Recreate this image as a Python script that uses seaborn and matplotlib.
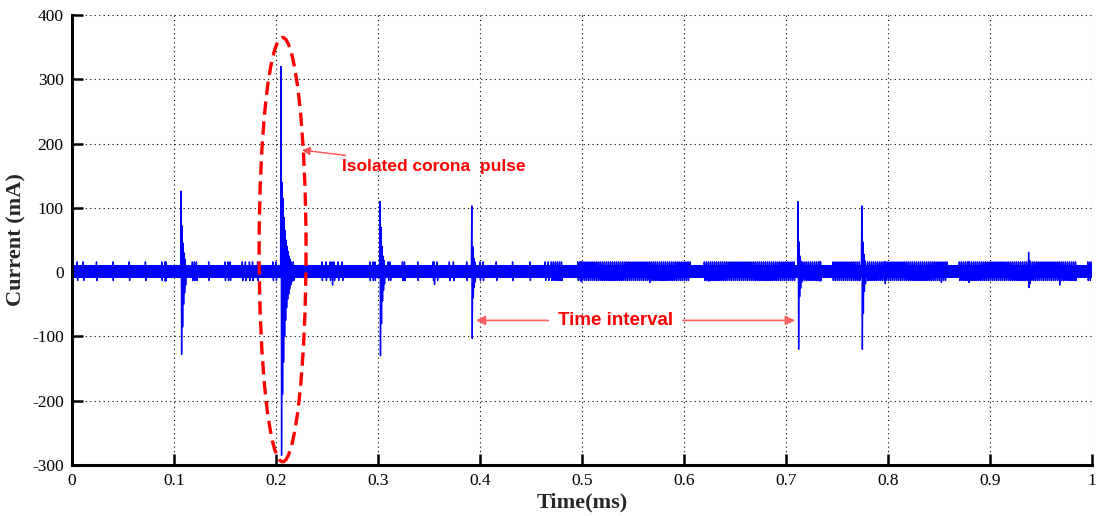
import numpy as np
import pandas as pd
import matplotlib
matplotlib.use("Agg")
import matplotlib.pyplot as plt
from matplotlib.patches import Ellipse
import seaborn as sns

# ---- data -------------------------------------------------------------
dt = 0.0005                      # sampling step (ms)
t_end = 1.0

band_hi, band_lo = 10, -8        # steady background oscillation (mA)
spike_hi, spike_lo = 16, -13     # small discharge spikes (mA)

# isolated small spikes (ms)
spike_times = [0.005, 0.011, 0.024, 0.040, 0.056, 0.072, 0.088, 0.092,
               0.118, 0.120, 0.122, 0.134, 0.150, 0.153, 0.155, 0.167,
               0.170, 0.174, 0.177, 0.182, 0.197, 0.200, 0.214, 0.217,
               0.245, 0.249, 0.253, 0.257, 0.261, 0.265, 0.292, 0.295,
               0.297, 0.310, 0.312, 0.324, 0.326, 0.339, 0.354, 0.358,
               0.370, 0.374, 0.387, 0.400, 0.403, 0.416, 0.432, 0.449,
               0.464, 0.467]
deep_spikes = [(0.091, -14), (0.255, -20), (0.355, -19), (0.499, -15),
               (0.566, -16), (0.624, -14), (0.733, -14), (0.797, -18),
               (0.852, -16), (0.879, -16), (0.968, -20)]

# stretches of dense spiking (start, end) in ms
dense_start = [0.469, 0.495, 0.619, 0.715, 0.745, 0.777, 0.870, 0.995]
dense_end   = [0.481, 0.606, 0.709, 0.735, 0.774, 0.858, 0.985, 1.000]

# corona pulses: onset time (ms) and successive ringing extrema (mA)
pulse_times = [0.107, 0.205, 0.302, 0.392, 0.712, 0.7745, 0.938]
pulse_ringing = [
    [126, -128, 72, -85, 45, -50, 30, -32, 20, -20],
    [320, -285, 140, -190, 115, -140, 85, -100, 65, -75, 50, -55,
     40, -42, 32, -34, 25, -26, 20, -20, 16, -15],
    [110, -130, 70, -80, 40, -45, 25, -28, 18, -18],
    [103, -103, 40, -40, 22, -24, 16, -15],
    [110, -120, 47, -38, 25, -25, 17, -16],
    [103, -120, 47, -64, 28, -30, 18, -18],
    [31, -24, 18, -18],
]

x_ticks = [0, 0.1, 0.2, 0.3, 0.4, 0.5, 0.6, 0.7, 0.8, 0.9, 1]
x_tick_labels = ["0", "0.1", "0.2", "0.3", "0.4", "0.5", "0.6", "0.7",
                 "0.8", "0.9", "1"]
y_ticks = [-300, -200, -100, 0, 100, 200, 300, 400]

# ---- assemble the current trace ---------------------------------------
t = np.arange(0, t_end + dt / 2, dt)
n = len(t)
sign = np.where(np.arange(n) % 2 == 0, 1, -1)
current = np.where(sign > 0, band_hi, band_lo).astype(float)

for s, e in zip(dense_start, dense_end):
    idx = np.where((t >= s) & (t <= e))[0]
    sel = idx[(idx // 2) % 2 == 0]
    current[sel] = np.where(sign[sel] > 0, spike_hi, spike_lo)

for ts in spike_times:
    k = int(round(ts / dt))
    current[k] = spike_hi
    current[k + 1] = spike_lo

for ts, v in deep_spikes:
    k = int(round(ts / dt))
    current[k] = spike_hi
    current[k + 1] = v

for ts, ring in zip(pulse_times, pulse_ringing):
    k = int(round(ts / dt))
    for j, v in enumerate(ring):
        if k + j < n:
            current[k + j] = v

df = pd.DataFrame({"Time (ms)": t, "Current (mA)": current})

# ---- figure -----------------------------------------------------------
sns.set_theme(style="white")
plt.rcParams["font.family"] = ["Liberation Serif", "DejaVu Serif"]
plt.rcParams["axes.unicode_minus"] = False

fig = plt.figure(figsize=(10.99, 5.16), dpi=100)
ax = fig.add_axes([0.0655, 0.0988, 0.928, 0.872])

sns.lineplot(data=df, x="Time (ms)", y="Current (mA)", ax=ax,
             estimator=None, sort=False, color="#0000ff", linewidth=1.0)

ax.set_xlim(0, 1)
ax.set_ylim(-300, 400)
ax.set_xticks(x_ticks)
ax.set_xticklabels(x_tick_labels)
ax.set_yticks(y_ticks)
ax.tick_params(direction="in", length=8, width=1.8, labelsize=12.5,
               colors="black", pad=6, top=False, right=False,
               bottom=True, left=True)
ax.grid(True, linestyle=(0, (1, 3)), color="black", linewidth=0.8)
ax.set_axisbelow(True)

for side in ("top", "right"):
    ax.spines[side].set_visible(False)
for side in ("left", "bottom"):
    ax.spines[side].set_color("black")
    ax.spines[side].set_linewidth(2.2)

ax.set_xlabel("Time(ms)", fontsize=16, fontweight="bold", labelpad=2)
ax.set_ylabel("Current (mA)", fontsize=16, fontweight="bold", labelpad=4)

# ---- annotations ------------------------------------------------------
ax.add_patch(Ellipse((0.2065, 35), width=0.046, height=660, fill=False,
                     edgecolor="red", linestyle=(0, (4, 2)), linewidth=2.4,
                     zorder=5))

ax.annotate("Isolated corona  pulse", xy=(0.2255, 190), xytext=(0.265, 165),
            color="red", fontsize=12.5, fontweight="bold",
            family=["Liberation Sans", "DejaVu Sans"], va="center",
            arrowprops=dict(arrowstyle="-|>", color="#ff5050", lw=1.0,
                            mutation_scale=12, shrinkA=0, shrinkB=0))

ax.text(0.533, -75, "Time interval", color="red", fontsize=13.5,
        fontweight="bold", family=["Liberation Sans", "DejaVu Sans"],
        ha="center", va="center")
arrow_kw = dict(arrowstyle="-|>", color="#ff6060", lw=1.2,
                mutation_scale=14, shrinkA=0, shrinkB=0)
ax.annotate("", xy=(0.396, -75), xytext=(0.467, -75), arrowprops=arrow_kw)
ax.annotate("", xy=(0.709, -75), xytext=(0.599, -75), arrowprops=arrow_kw)

fig.savefig("out.png", dpi=100)
